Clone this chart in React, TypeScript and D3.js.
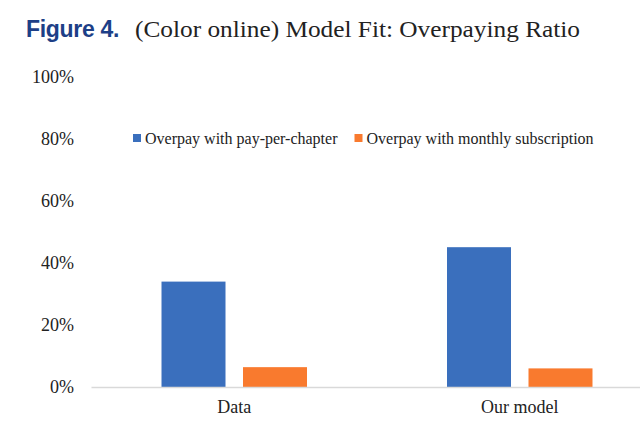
import React from "react";
import * as d3 from "d3";

const categories = ["Data", "Our model"];
const seriesNames = ["Overpay with pay-per-chapter", "Overpay with monthly subscription"];
const payPerChapter = [0.34, 0.451];
const monthlySub = [0.064, 0.06];
const yTicks = [0, 0.2, 0.4, 0.6, 0.8, 1.0];
const colors = ["#3A6FBD", "#F97A2E"];

export default function App() {
  const W = 640, H = 445;
  const serif = "'Liberation Serif', 'Times New Roman', serif";
  const y = d3.scaleLinear().domain([0, 1]).range([387, 77]);
  const x0 = d3.scaleBand().domain(categories).range([91.5, 662.5]).paddingInner(0).paddingOuter(0);
  const x1 = d3.scaleBand().domain(seriesNames).range([0, x0.bandwidth()]).paddingInner(0.2147).paddingOuter(0.859);
  const series = [payPerChapter, monthlySub];
  const fmt = d3.format(".0%");
  return (
    <svg width={W} height={H} style={{ position: "absolute", left: 0, top: 0, background: "#fff" }}>
      <text x={26} y={37} fontFamily="'Liberation Sans', Arial, sans-serif" fontWeight="bold" fontSize={23} fill="#1D3F87" letterSpacing={-0.3}>Figure 4.</text>
      <text x={135} y={37} fontFamily={serif} fontSize={24} fill="#222" textLength={445} lengthAdjust="spacingAndGlyphs">(Color online) Model Fit: Overpaying Ratio</text>
      {yTicks.map((t) => (
        <text key={t} x={74} y={y(t) + 6} textAnchor="end" fontFamily={serif} fontSize={18} fill="#222">{fmt(t)}</text>
      ))}
      {categories.map((c, ci) => (
        <g key={c} transform={`translate(${x0(c)},0)`}>
          {seriesNames.map((s, si) => (
            <rect key={s} x={x1(s)} y={y(series[si][ci])} width={x1.bandwidth()} height={y(0) - y(series[si][ci])} fill={colors[si]} />
          ))}
          <text x={x0.bandwidth() / 2} y={413} textAnchor="middle" fontFamily={serif} fontSize={18} fill="#222">{c}</text>
        </g>
      ))}
      <line x1={91.5} x2={662.5} y1={y(0) + 0.5} y2={y(0) + 0.5} stroke="#D9D9D9" strokeWidth={1.5} />
      {seriesNames.map((s, i) => {
        const lx = i === 0 ? 133 : 354.5;
        return (
          <g key={s}>
            <rect x={lx} y={134} width={8} height={8} fill={colors[i]} />
            <text x={lx + 12} y={143.5} fontFamily={serif} fontSize={16} fill="#222">{s}</text>
          </g>
        );
      })}
    </svg>
  );
}
